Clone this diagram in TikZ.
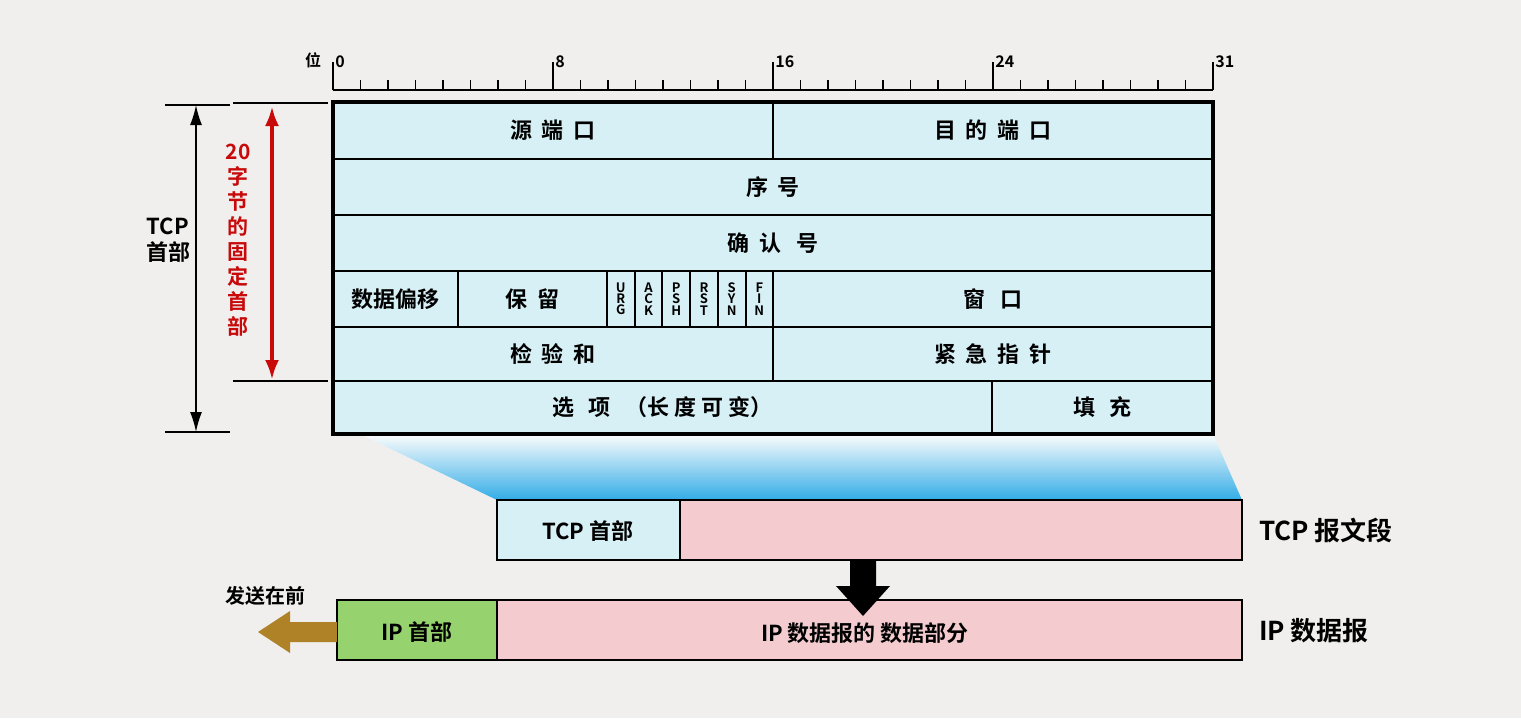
\documentclass[tikz,border=0pt]{standalone}
\usepackage{fontspec}
\setmainfont{Noto Sans CJK SC}[BoldFont={Noto Sans CJK SC Bold}]
\usetikzlibrary{arrows.meta}
\definecolor{lb}{RGB}{214,240,246}
\definecolor{pk}{RGB}{244,204,208}
\definecolor{gr}{RGB}{150,210,110}
\definecolor{br}{RGB}{175,130,40}
\definecolor{bg}{RGB}{240,239,238}
\definecolor{rd}{RGB}{200,10,10}
\definecolor{sky}{RGB}{30,165,230}
\begin{document}
\begin{tikzpicture}[x=0.5pt,y=-0.5pt,
  cell/.style={draw,line width=1pt,fill=lb},
  lab/.style={font=\bfseries\fontsize{11}{12}\selectfont},
  big/.style={font=\bfseries\fontsize{13}{14}\selectfont},
  flag/.style={font=\bfseries\fontsize{6.5}{5.6}\selectfont,align=center,inner sep=0pt}]
\fill[bg] (0,0) rectangle (1521,718);
\useasboundingbox (0,0) rectangle (1521,718);
% gradient funnel
\shade[top color=white,bottom color=sky,opacity=0.9] (360,434) -- (1213,434) -- (1242,500) -- (497,500) -- cycle;
% ruler
\draw[line width=0.8pt] (333,90) -- (1213,90);
\foreach \i in {0,...,32}{\draw[line width=0.8pt] ({333+27.5*\i},90) -- ({333+27.5*\i},80);}
\foreach \i/\t in {0/0,8/8,16/16,24/24,32/31}{
  \draw[line width=0.8pt] ({333+27.5*\i},90) -- ({333+27.5*\i},62);
  \node[anchor=south west,inner sep=1pt,font=\bfseries\fontsize{8}{9}\selectfont] (r\i) at ({333+27.5*\i},70) {\t};}
\node[font=\bfseries\fontsize{8}{9}\selectfont] (wei) at (313,60) {位};
% rows
\def\R#1#2#3#4#5{\draw[cell] (#1,#2) rectangle (#3,#4); \node[lab] at ({(#1+#3)/2},{(#2+#4)/2}) {#5};}
\R{333}{102}{773}{159}{源\ \ 端\ \ 口}
\R{773}{102}{1213}{159}{目\ \ 的\ \ 端\ \ 口}
\R{333}{159}{1213}{215}{序\ \ 号}
\R{333}{215}{1213}{271}{确\ \ 认\ \ \ 号}
\R{333}{271}{458}{327}{数据偏移}
\R{458}{271}{607}{327}{保\ \ 留}
\foreach \i/\t in {0/U\\R\\G,1/A\\C\\K,2/P\\S\\H,3/R\\S\\T,4/S\\Y\\N,5/F\\I\\N}{
  \draw[cell] ({607+27.7*\i},271) rectangle ({607+27.7*(\i+1)},327);
  \node[flag] at ({607+27.7*(\i+0.5)},299) {\t};}
\R{773}{271}{1213}{327}{窗\ \ \ 口}
\R{333}{327}{773}{381}{检\ \ 验\ \ 和}
\R{773}{327}{1213}{381}{紧\ \ 急\ \ 指\ \ 针}
\R{333}{381}{992}{434}{选\ \ \ 项\ \ \ （长\ 度\ 可\ 变）}
\R{992}{381}{1213}{434}{填\ \ \ 充}
\draw[line width=2pt] (333,102) rectangle (1213,434);
% brackets
\draw[line width=0.8pt] (165,105) -- (230,105) (165,432) -- (230,432);
\draw[line width=0.8pt] (233,103) -- (328,103) (233,381) -- (328,381);
\coordinate (t1) at (196,105); \coordinate (t2) at (196,432);
\draw[-{Latex[length=10pt,width=6pt]},line width=0.8pt] (196,260) -- (t1);
\draw[-{Latex[length=10pt,width=6pt]},line width=0.8pt] (196,260) -- (t2);
\node[lab,fill=bg,align=center,inner sep=1pt,font=\bfseries\fontsize{11}{13}\selectfont] (tcph) at (168,240) {TCP\\首部};
\coordinate (f1) at (272,106); \coordinate (f2) at (272,380);
\draw[{Latex[length=10pt,width=7pt]}-{Latex[length=10pt,width=7pt]},rd,line width=2pt] (f1) -- (f2);
\node[lab,rd,align=center,inner sep=0pt,font=\bfseries\fontsize{10.5}{12.5}\selectfont] (fix) at (238,240) {20\\字\\节\\的\\固\\定\\首\\部};
% TCP segment
\draw[line width=1pt,fill=lb] (497,500) rectangle (680,560);
\draw[line width=1pt,fill=pk] (680,500) rectangle (1242,560);
\node[lab] (th) at (588,531) {TCP 首部};
\node[big,anchor=west] (tseg) at (1252,531) {TCP 报文段};
% IP datagram
\draw[line width=1pt,fill=gr] (337,600) rectangle (497,660);
\draw[line width=1pt,fill=pk] (497,600) rectangle (1242,660);
\node[lab] (iph) at (417,632) {IP 首部};
\node[lab] (ipd) at (865,633) {IP 数据报的 数据部分};
\node[big,anchor=west] (ipl) at (1252,631) {IP 数据报};
% black arrow
\fill[black] (850,560) -- (876,560) -- (876,586) -- (890,586) -- (863,616) -- (836,586) -- (850,586) -- cycle;
% brown arrow
\fill[br] (337,622) -- (290,622) -- (290,611) -- (258,632) -- (290,653) -- (290,642) -- (337,642) -- cycle;
\node[lab,font=\bfseries\fontsize{10}{12}\selectfont] (fs) at (265,596) {发送在前};
\end{tikzpicture}
\end{document}
